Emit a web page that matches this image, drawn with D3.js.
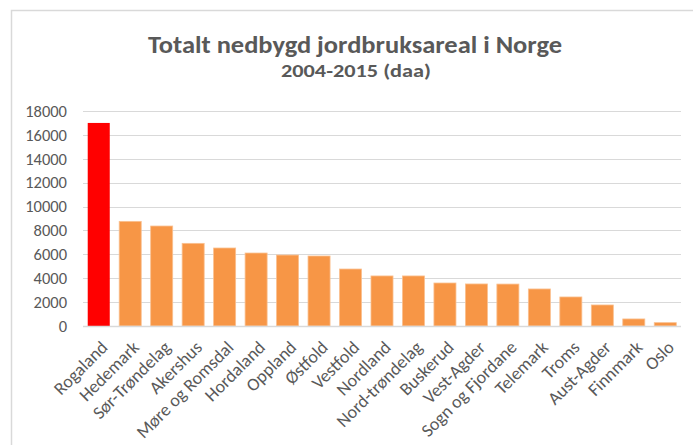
<!DOCTYPE html>
<html>
<head>
<meta charset="utf-8">
<script src="https://cdn.jsdelivr.net/npm/d3@7"></script>
<style>
  body { margin: 0; background: #fff; }
  text { font-family: Carlito, Calibri, "Open Sans", sans-serif; fill: #595959; }
</style>
</head>
<body>
<script>
var fylker = ["Rogaland","Hedemark","Sør-Trøndelag","Akershus","Møre og Romsdal","Hordaland",
  "Oppland","Østfold","Vestfold","Nordland","Nord-trøndelag","Buskerud","Vest-Agder",
  "Sogn og Fjordane","Telemark","Troms","Aust-Agder","Finnmark","Oslo"];
var areal = [17000, 8760, 8370, 6920, 6530, 6110, 5940, 5860, 4770, 4190, 4190, 3600, 3520,
  3510, 3100, 2430, 1760, 590, 280];
var yTicks = [0, 2000, 4000, 6000, 8000, 10000, 12000, 14000, 16000, 18000];

var margin = {top: 111, left: 83, right: 12, bottom: 119},
    W = 693, H = 445,
    width = W - margin.left - margin.right,
    height = H - margin.top - margin.bottom;

var svg = d3.select("body").append("svg")
    .attr("width", W)
    .attr("height", H);

// ramme rundt diagrammet
svg.append("rect")
    .attr("x", 11.5).attr("y", 10.5)
    .attr("width", W).attr("height", H)
    .attr("fill", "none")
    .attr("stroke", "#d9d9d9")
    .attr("stroke-width", 1.5);

svg.append("text")
    .attr("x", 355).attr("y", 53)
    .attr("text-anchor", "middle")
    .attr("textLength", 414).attr("lengthAdjust", "spacingAndGlyphs")
    .style("font-size", "24px").style("font-weight", "bold")
    .text("Totalt  nedbygd jordbruksareal  i Norge");
svg.append("text")
    .attr("x", 356).attr("y", 77)
    .attr("text-anchor", "middle")
    .attr("textLength", 150).attr("lengthAdjust", "spacingAndGlyphs")
    .style("font-size", "18px").style("font-weight", "bold")
    .text("2004-2015 (daa)");

var g = svg.append("g")
    .attr("transform", "translate(" + margin.left + "," + margin.top + ")");

var x = d3.scaleBand().domain(fylker).range([0, width]).paddingInner(0.3).paddingOuter(0.15);
var y = d3.scaleLinear().domain([0, 18000]).range([height, 0]);

g.selectAll(".grid")
    .data(yTicks.slice(1))
    .enter().append("line")
    .attr("class", "grid")
    .attr("x1", 0).attr("x2", width)
    .attr("y1", function(d) { return Math.round(y(d)) + 0.5; })
    .attr("y2", function(d) { return Math.round(y(d)) + 0.5; })
    .attr("stroke", "#d9d9d9");

var yAxis = d3.axisLeft(y).tickValues(yTicks).tickFormat(d3.format("d")).tickSize(0).tickPadding(16);
var ya = g.append("g").call(yAxis);
ya.select(".domain").remove();
ya.selectAll("text").style("font-size", "16.5px").attr("fill", "#595959");

g.selectAll(".bar")
    .data(areal)
    .enter().append("rect")
    .attr("class", "bar")
    .attr("x", function(d, i) { return x(fylker[i]); })
    .attr("width", x.bandwidth())
    .attr("y", function(d) { return y(d); })
    .attr("height", function(d) { return y(0) - y(d); })
    .attr("fill", function(d, i) { return i === 0 ? "#ff0000" : "#f79646"; })
    .attr("stroke", function(d, i) { return i === 0 ? "none" : "#fac090"; })
    .attr("stroke-width", 0.8);

g.append("line")
    .attr("x1", 0).attr("x2", width)
    .attr("y1", height + 0.5).attr("y2", height + 0.5)
    .attr("stroke", "#d9d9d9").attr("stroke-width", 1.5);

var xAxis = d3.axisBottom(x).tickSize(0).tickPadding(0);
var xa = g.append("g").attr("transform", "translate(0," + height + ")").call(xAxis);
xa.select(".domain").remove();
xa.selectAll("text")
    .style("font-size", "18px")
    .attr("fill", "#595959")
    .attr("text-anchor", "end")
    .attr("y", 0)
    .attr("dy", "0.35em")
    .attr("transform", "translate(" + (x.bandwidth() * 0.25) + ",18) rotate(-45)");
</script>
</body>
</html>
